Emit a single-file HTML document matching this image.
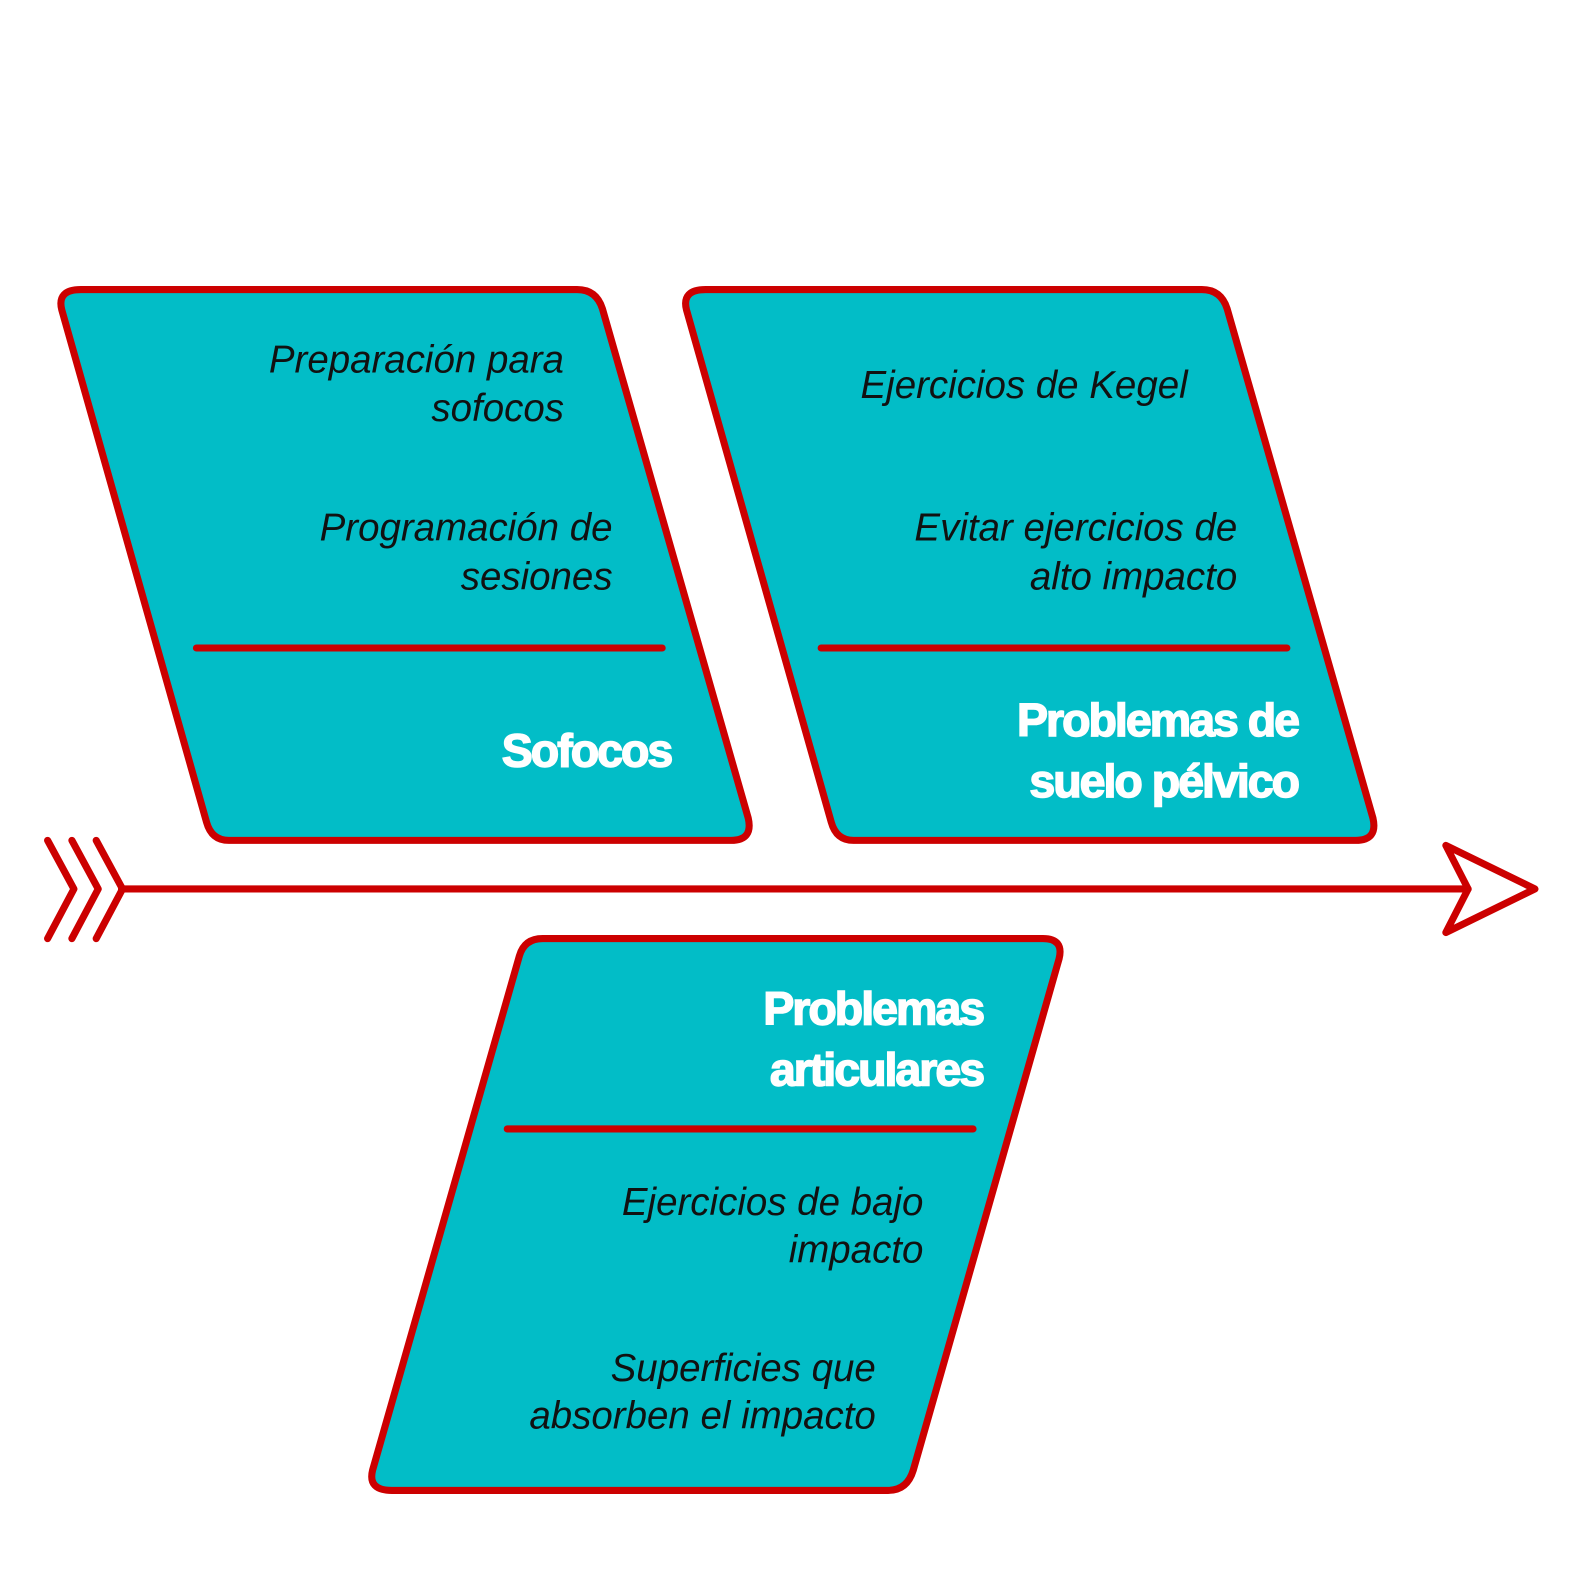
<!DOCTYPE html>
<html><head><meta charset="utf-8"><style>
html,body{margin:0;padding:0;background:#fff;}
svg{display:block;}
.i{font-family:"Liberation Sans",sans-serif;font-style:italic;font-size:38px;fill:#111;text-anchor:end;}
.t{font-family:"Liberation Sans",sans-serif;font-weight:bold;font-size:46px;fill:#fff;text-anchor:end;letter-spacing:-2px;stroke:#fff;stroke-width:1.5px;}
</style></head><body>
<svg width="1580" height="1585" viewBox="0 0 1580 1585" xmlns="http://www.w3.org/2000/svg">
<g transform="scale(1.0125)">
<g fill="#02bdc7" stroke="#cc0000" stroke-width="7" stroke-linejoin="round">
<path d="M80,286 L570,286 Q589,286 595,305 L739,808 Q744,830 722,830 L226,830 Q209,830 204,812 L61,306 Q56,286 80,286 Z"/>
<path d="M697,286 L1187,286 Q1206,286 1212,305 L1356,808 Q1361,830 1339,830 L843,830 Q826,830 821,812 L678,306 Q673,286 697,286 Z"/>
<path d="M536,927 L1030,927 Q1051,927 1046,947 L902,1452 Q896,1472 877,1472 L387,1472 Q363,1472 368,1452 L513,944 Q518,927 536,927 Z"/>
</g>
<g stroke="#cc0000" stroke-width="7" stroke-linecap="round" fill="none" stroke-linejoin="round">
<line x1="194" y1="640" x2="654" y2="640"/>
<line x1="811" y1="640" x2="1271" y2="640"/>
<line x1="501" y1="1115" x2="961" y2="1115"/>
<line x1="120" y1="878" x2="1450" y2="878"/>
<polyline points="1428,835 1516,878 1428,921 1450,878 1428,835"/>
<polyline points="47,830 73,878 47,927"/>
<polyline points="71,830 97,878 71,927"/>
<polyline points="95,830 121,878 95,927"/>
</g>
<text class="i" x="557" y="368">Preparación para</text>
<text class="i" x="557" y="416">sofocos</text>
<text class="i" x="605" y="534">Programación de</text>
<text class="i" x="605" y="582">sesiones</text>
<text class="t" x="663" y="757">Sofocos</text>
<text class="i" x="1173" y="393">Ejercicios de Kegel</text>
<text class="i" x="1222" y="534">Evitar ejercicios de</text>
<text class="i" x="1222" y="582">alto impacto</text>
<text class="t" x="1282" y="727">Problemas de</text>
<text class="t" x="1282" y="787">suelo pélvico</text>
<text class="t" x="971" y="1012">Problemas</text>
<text class="t" x="971" y="1072">articulares</text>
<text class="i" x="912" y="1200">Ejercicios de bajo</text>
<text class="i" x="912" y="1247">impacto</text>
<text class="i" x="865" y="1364">Superficies que</text>
<text class="i" x="865" y="1411">absorben el impacto</text>
</g>
</svg>
</body></html>
